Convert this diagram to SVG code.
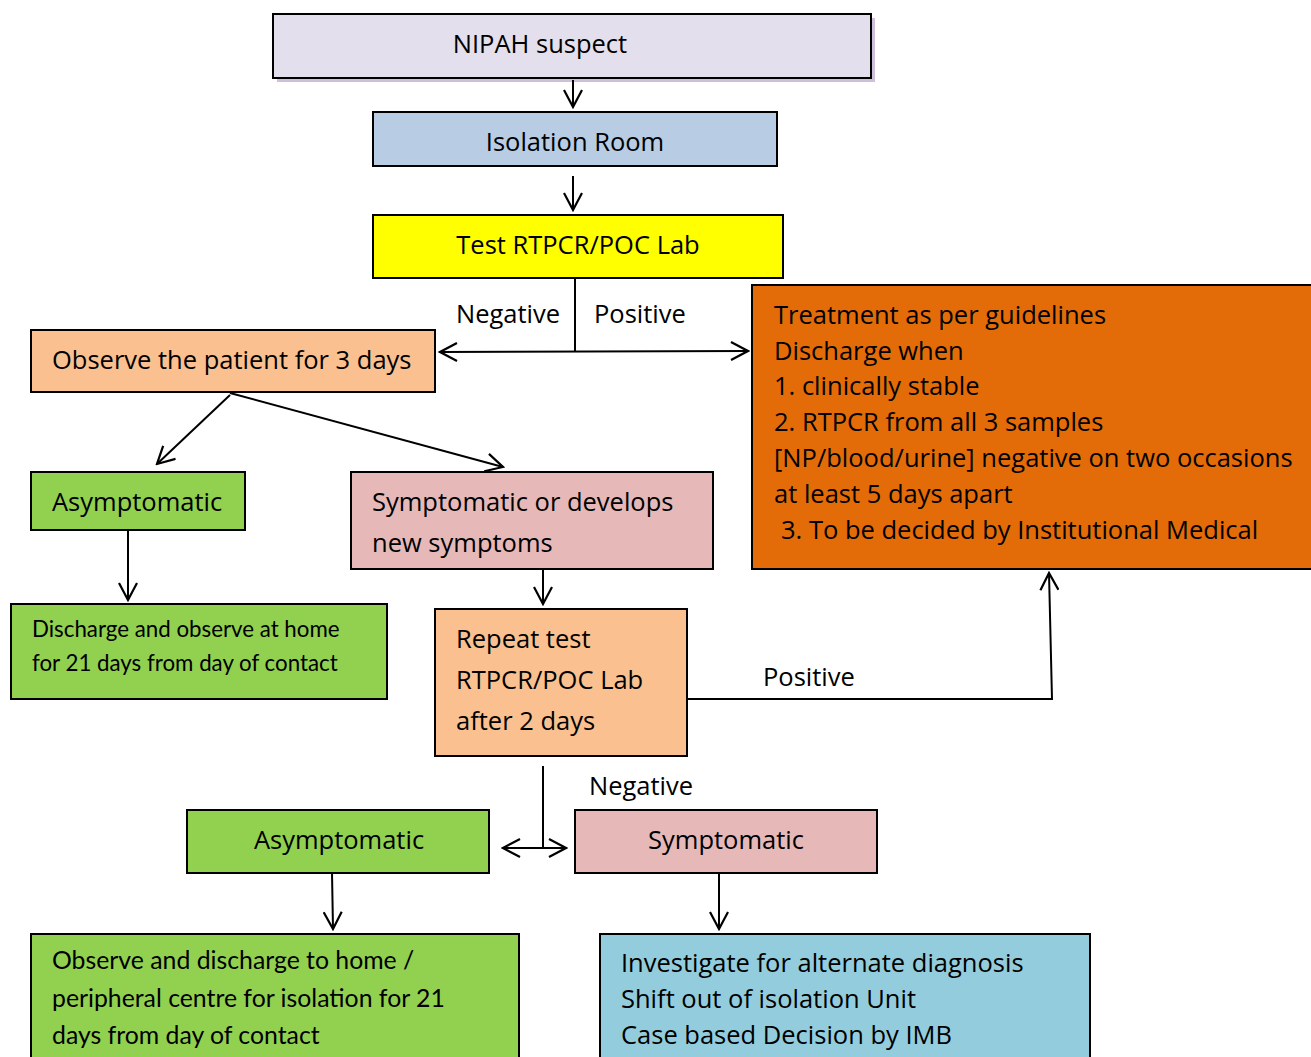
<svg xmlns="http://www.w3.org/2000/svg" width="1311" height="1057" viewBox="0 0 1311 1057">
<defs>
<style>
text{font-family:"Open Sans",Lato,"Liberation Sans",sans-serif;font-size:25.5px;fill:#000}
.box{stroke:#000;stroke-width:2}
.c{text-anchor:middle}
.sm{font-family:Lato,"Open Sans",sans-serif;font-size:22.3px}
.cd{font-family:Lato,"Open Sans",sans-serif;font-size:24.8px}
.ln{stroke:#000;stroke-width:2;fill:none}
</style>
<marker id="a" viewBox="0 0 20 20" refX="18" refY="10" markerWidth="20" markerHeight="20" markerUnits="userSpaceOnUse" orient="auto-start-reverse">
<path d="M1,1 L18,10 L1,19" fill="none" stroke="#000" stroke-width="2.2"/>
</marker>
</defs>
<rect width="1311" height="1057" fill="#fff"/>
<g id="n-nipah">
<rect x="277" y="18" width="598" height="64" fill="#ccc0da"/>
<rect class="box" x="273" y="14" width="598" height="64" fill="#e4dfec"/>
<text class="c" x="540" y="53">NIPAH suspect</text>
</g>
<g id="n-isolation">
<rect class="box" x="373" y="112" width="404" height="54" fill="#b8cce4"/>
<text class="c" x="575" y="151">Isolation Room</text>
</g>
<g id="n-test">
<rect class="box" x="373" y="215" width="410" height="63" fill="#ffff00"/>
<text class="c" x="578" y="254">Test RTPCR/POC Lab</text>
</g>
<g id="n-observe">
<rect class="box" x="31" y="330" width="404" height="62" fill="#fac090"/>
<text x="52" y="369">Observe the patient for 3 days</text>
</g>
<g id="n-treatment">
<rect class="box" x="752" y="285" width="562" height="284" fill="#e36c09"/>
<text x="774" y="324">Treatment as per guidelines</text>
<text x="774" y="360">Discharge when</text>
<text x="774" y="395">1. clinically stable</text>
<text x="774" y="431">2. RTPCR from all 3 samples</text>
<text x="774" y="467">[NP/blood/urine] negative on two occasions</text>
<text x="774" y="503">at least 5 days apart</text>
<text x="781" y="539">3. To be decided by Institutional Medical</text>
</g>
<g id="n-asym1">
<rect class="box" x="31" y="472" width="214" height="58" fill="#92d050"/>
<text x="52" y="511">Asymptomatic</text>
</g>
<g id="n-sym1">
<rect class="box" x="351" y="472" width="362" height="97" fill="#e6b9b8"/>
<text x="372" y="511">Symptomatic or develops</text>
<text x="372" y="552">new symptoms</text>
</g>
<g id="n-discharge1">
<rect class="box" x="11" y="604" width="376" height="95" fill="#92d050"/>
<text class="sm" x="32" y="637">Discharge and observe at home</text>
<text class="sm" x="32" y="671">for 21 days from day of contact</text>
</g>
<g id="n-repeat">
<rect class="box" x="435" y="609" width="252" height="147" fill="#fac090"/>
<text x="456" y="648">Repeat test</text>
<text x="456" y="689">RTPCR/POC Lab</text>
<text x="456" y="730">after 2 days</text>
</g>
<g id="n-asym2">
<rect class="box" x="187" y="810" width="302" height="63" fill="#92d050"/>
<text class="c" x="339" y="849">Asymptomatic</text>
</g>
<g id="n-sym2">
<rect class="box" x="575" y="810" width="302" height="63" fill="#e6b9b8"/>
<text class="c" x="726" y="849">Symptomatic</text>
</g>
<g id="n-observe2">
<rect class="box" x="31" y="934" width="488" height="130" fill="#92d050"/>
<text class="cd" x="52" y="969">Observe and discharge to home /</text>
<text class="cd" x="52" y="1007">peripheral centre for isolation for 21</text>
<text class="cd" x="52" y="1044">days from day of contact</text>
</g>
<g id="n-investigate">
<rect class="box" x="600" y="934" width="490" height="130" fill="#93cddd"/>
<text x="621" y="972">Investigate for alternate diagnosis</text>
<text x="621" y="1008">Shift out of isolation Unit</text>
<text x="621" y="1044">Case based Decision by IMB</text>
</g>
<g id="connectors">
<line class="ln" x1="573" y1="80" x2="573" y2="107" marker-end="url(#a)"/>
<line class="ln" x1="573" y1="176" x2="573" y2="210" marker-end="url(#a)"/>
<line class="ln" x1="575" y1="278" x2="575" y2="351"/>
<line class="ln" x1="440" y1="352" x2="748" y2="351" marker-start="url(#a)" marker-end="url(#a)"/>
<text x="456" y="323">Negative</text>
<text x="594" y="323">Positive</text>
<line class="ln" x1="230" y1="395" x2="157" y2="464" marker-end="url(#a)"/>
<line class="ln" x1="230" y1="393" x2="503" y2="467" marker-end="url(#a)"/>
<line class="ln" x1="128" y1="531" x2="128" y2="600" marker-end="url(#a)"/>
<line class="ln" x1="543" y1="569" x2="543" y2="604" marker-end="url(#a)"/>
<polyline class="ln" points="687,699 1052,699 1049,573" marker-end="url(#a)"/>
<text x="763" y="686">Positive</text>
<line class="ln" x1="543" y1="766" x2="543" y2="848"/>
<line class="ln" x1="503" y1="848" x2="566" y2="848" marker-start="url(#a)" marker-end="url(#a)"/>
<text x="589" y="795">Negative</text>
<line class="ln" x1="332" y1="873" x2="333" y2="929" marker-end="url(#a)"/>
<line class="ln" x1="719" y1="873" x2="719" y2="929" marker-end="url(#a)"/>
</g>
</svg>
